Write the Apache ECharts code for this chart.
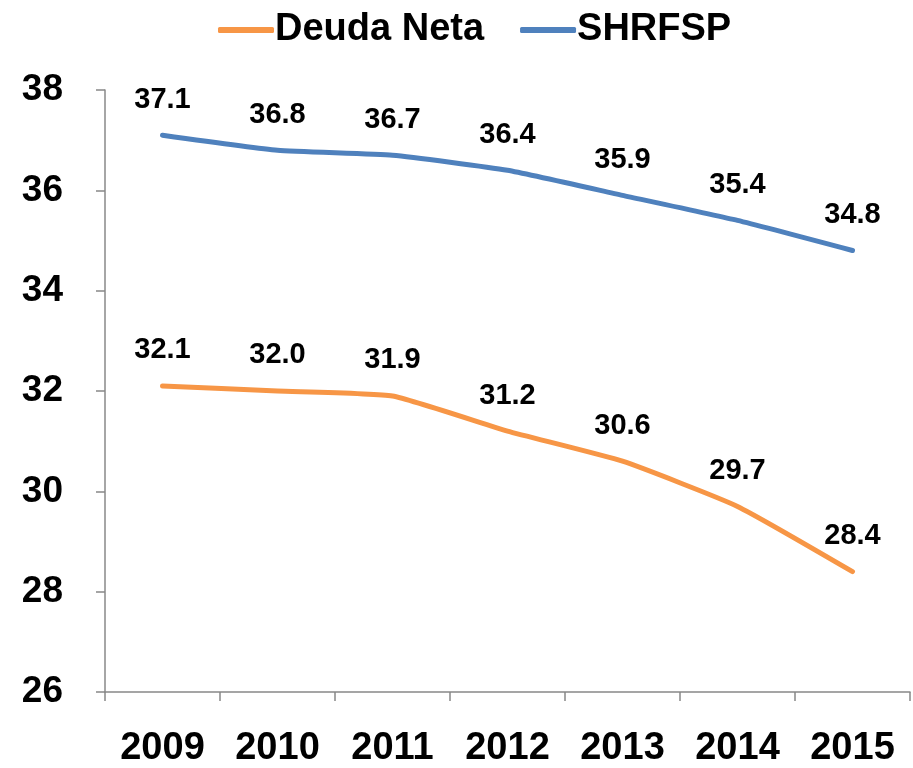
<!DOCTYPE html>
<html>
<head>
<meta charset="utf-8">
<script src="https://cdn.jsdelivr.net/npm/echarts@6/dist/echarts.min.js"></script>
<style>
  html, body { margin: 0; padding: 0; background: #fff; }
  #chart { width: 913px; height: 768px; }
</style>
</head>
<body>
<div id="chart"></div>
<script>
const years = ['2009', '2010', '2011', '2012', '2013', '2014', '2015']
const deudaNeta = [32.1, 32.0, 31.9, 31.2, 30.6, 29.7, 28.4]
const shrfsp = [37.1, 36.8, 36.7, 36.4, 35.9, 35.4, 34.8]

const font = 'Liberation Sans, Arial, sans-serif'

function lineSeries(name, values, color) {
  return {
    name: name,
    type: 'line',
    data: values,
    smooth: 0.15,
    // tiny symbol so the labels still render
    symbol: 'circle',
    symbolSize: 0.1,
    showSymbol: true,
    lineStyle: { color: color, width: 5, cap: 'round', join: 'round' },
    itemStyle: { color: color },
    label: {
      show: true,
      position: 'top',
      distance: 21,
      color: '#000',
      fontSize: 29,
      fontWeight: 'bold',
      formatter: (p) => p.value.toFixed(1)
    }
  }
}

const chart = echarts.init(document.getElementById('chart'))
chart.setOption({
  animation: false,
  textStyle: { fontFamily: font },
  legend: {
    left: 213,
    top: 6,
    itemWidth: 56,
    itemHeight: 6,
    itemGap: 36,
    icon: 'roundRect',
    textStyle: { fontSize: 38, fontWeight: 'bold', color: '#000', fontFamily: font, padding: [0, 0, 0, -4] },
    data: ['Deuda Neta', 'SHRFSP']
  },
  grid: { left: 105, right: 3, top: 90, bottom: 73 },
  xAxis: {
    type: 'category',
    data: years,
    boundaryGap: true,
    axisLine: { lineStyle: { color: '#888', width: 1.5 } },
    axisTick: { show: true, length: 9, lineStyle: { color: '#888', width: 1.5 } },
    axisLabel: { color: '#000', fontSize: 38, fontWeight: 'bold', margin: 38 }
  },
  yAxis: {
    type: 'value',
    min: 26,
    max: 38,
    interval: 2,
    axisLine: { show: true, lineStyle: { color: '#888', width: 1.5 } },
    axisTick: { show: true, length: 9, lineStyle: { color: '#888', width: 1.5 } },
    axisLabel: { color: '#000', fontSize: 37, fontWeight: 'bold', margin: 42 },
    splitLine: { show: false }
  },
  series: [
    lineSeries('Deuda Neta', deudaNeta, '#F79646'),
    lineSeries('SHRFSP', shrfsp, '#4F81BD')
  ]
})
</script>
</body>
</html>
